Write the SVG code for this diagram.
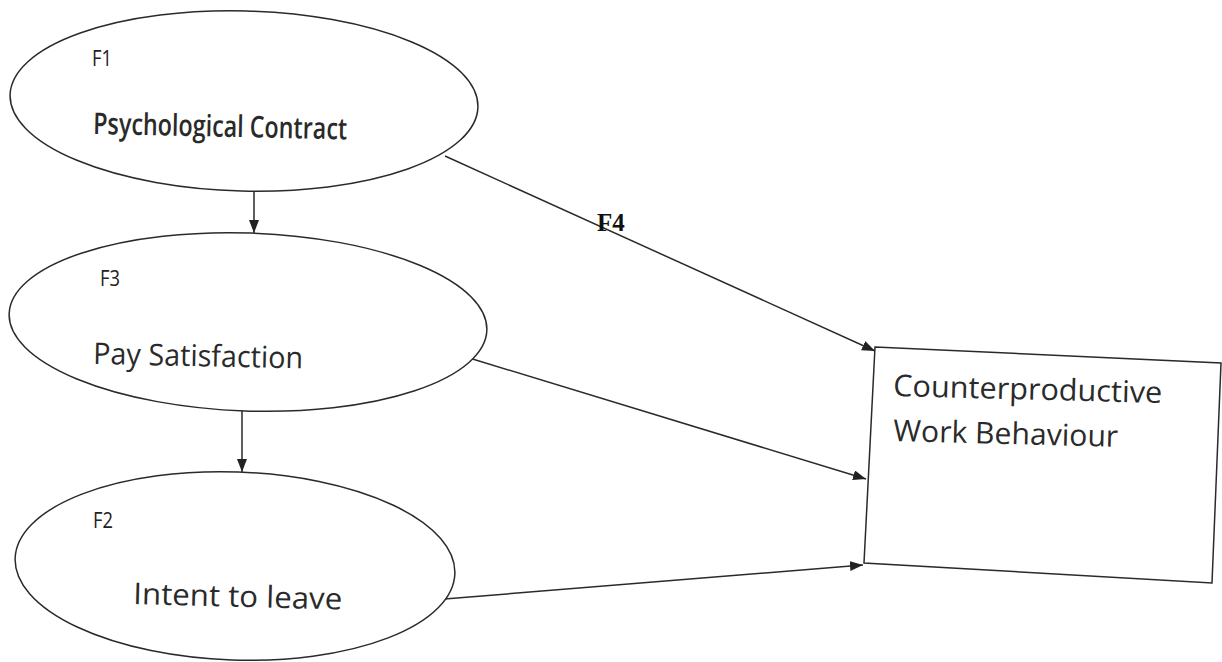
<svg xmlns="http://www.w3.org/2000/svg" width="1222" height="662" viewBox="0 0 1222 662">
  <style>
    .shape { fill: #ffffff; stroke: #2a2a2a; stroke-width: 1.5; }
    .conn { fill: none; stroke: #2a2a2a; stroke-width: 1.5; }
    .small { font-family: "Open Sans", "Liberation Sans", sans-serif; font-size: 21px; fill: #222; }
    .big { font-family: "Open Sans", "Liberation Sans", sans-serif; font-size: 30px; fill: #2a2a2a; }
    .lbl { font-family: "Liberation Serif", serif; font-size: 25px; font-weight: bold; fill: #111; }
  </style>
  <defs>
    <marker id="arr" markerUnits="userSpaceOnUse" markerWidth="14" markerHeight="12" refX="13" refY="5" orient="auto">
      <path d="M0,0 L13,5 L0,10 Z" fill="#222"/>
    </marker>
  </defs>
  <rect x="0" y="0" width="1222" height="662" fill="#ffffff"/>

  <g id="connectors">
    <line class="conn" x1="254" y1="191" x2="254" y2="233" marker-end="url(#arr)"/>
    <line class="conn" x1="242" y1="411" x2="242" y2="472" marker-end="url(#arr)"/>
    <line class="conn" x1="445" y1="156" x2="875" y2="351" marker-end="url(#arr)"/>
    <line class="conn" x1="466" y1="357" x2="866" y2="479" marker-end="url(#arr)"/>
    <line class="conn" x1="432" y1="600" x2="863" y2="565" marker-end="url(#arr)"/>
    <text class="lbl" x="597" y="231">F4</text>
  </g>

  <g id="F1">
    <ellipse class="shape" cx="244" cy="101" rx="234" ry="90" transform="rotate(1.5 244 101)"/>
    <text class="small" x="92" y="66" textLength="20" lengthAdjust="spacingAndGlyphs">F1</text>
    <text class="big" x="93" y="134" font-size="25" font-weight="600" textLength="254" lengthAdjust="spacingAndGlyphs" transform="rotate(1.2 93 134)">Psychological Contract</text>
  </g>

  <g id="F3">
    <ellipse class="shape" cx="248" cy="322" rx="239" ry="89" transform="rotate(2 248 322)"/>
    <text class="small" x="100" y="286" textLength="20" lengthAdjust="spacingAndGlyphs">F3</text>
    <text class="big" x="93" y="364" textLength="210" lengthAdjust="spacingAndGlyphs" transform="rotate(1.2 93 364)">Pay Satisfaction</text>
  </g>

  <g id="F2">
    <ellipse class="shape" cx="235" cy="566" rx="220" ry="94" transform="rotate(2 235 566)"/>
    <text class="small" x="93" y="528" textLength="20" lengthAdjust="spacingAndGlyphs">F2</text>
    <text class="big" x="133" y="604" font-size="28" fill="#111" textLength="209" lengthAdjust="spacingAndGlyphs" transform="rotate(1.5 133 604)">Intent to leave</text>
  </g>

  <g id="CWB">
    <polygon class="shape" points="875,347 1221,363 1212,583 864,563"/>
    <text class="big" x="893" y="396" textLength="269" lengthAdjust="spacingAndGlyphs" transform="rotate(1.5 893 396)">Counterproductive</text>
    <text class="big" x="893" y="441" textLength="225" lengthAdjust="spacingAndGlyphs" transform="rotate(1.5 893 441)">Work Behaviour</text>
  </g>
</svg>
